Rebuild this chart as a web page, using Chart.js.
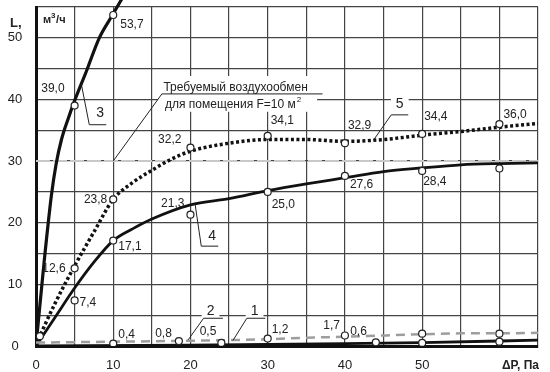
<!DOCTYPE html>
<html>
<head>
<meta charset="utf-8">
<script src="https://cdn.jsdelivr.net/npm/chart.js@4/dist/chart.umd.min.js"></script>
<style>
    html, body { margin: 0; padding: 0; background: #fff; }
</style>
</head>
<body>
<canvas id="grafico" width="550" height="372"></canvas>
<script>
// кривые: ΔP, Па -> L, м3/ч
const dP1 = [0, 20, 40, 50, 65];
const L1 = [0, 0.15, 0.4, 0.55, 0.95];
const dP2 = [0, 10, 20, 30, 35, 40, 50, 55, 60, 65];
const L2 = [0.55, 0.7, 0.85, 1.1, 1.35, 1.5, 1.9, 2.05, 2.05, 2.15];
const dP3 = [0, 1, 2, 2.6, 3.3, 4.2, 5, 6.5, 8.2, 9.9, 11.2];
const L3 = [0, 13, 24.5, 29.5, 33.5, 37, 39.8, 44.5, 50, 53.7, 56.5];
const dP4 = [0, 2.5, 5, 7.5, 10, 12.5, 15, 20, 25, 30, 35, 40, 45, 50, 55, 60, 65];
const L4 = [0, 4.7, 9.4, 13.6, 17.1, 19.0, 20.6, 22.9, 23.9, 25.2, 26.3, 27.3, 28.3, 28.9, 29.4, 29.6, 29.7];
const dP5 = [0, 2.5, 5, 7.5, 10, 12.5, 15, 17.5, 20, 25, 30, 35, 40, 45, 50, 55, 60, 65];
const L5 = [0.3, 7, 13, 18.5, 23.8, 26.5, 28.5, 30.3, 31.6, 32.9, 33.5, 33.5, 33.2, 33.5, 34.2, 34.8, 35.5, 36.1];

// замеренные точки
const ptDP1 = [24, 44, 50, 60];
const ptL1 = [0.5, 0.6, 0.5, 0.7];
const ptDP2 = [10, 18.5, 30, 40, 50, 60];
const ptL2 = [0.4, 0.8, 1.2, 1.7, 2.0, 2.0];
const ptDP3 = [5, 10];
const ptL3 = [39.0, 53.7];
const ptDP4 = [5, 10, 20, 30, 40, 50, 60];
const ptL4 = [7.4, 17.1, 21.3, 25.0, 27.6, 28.4, 28.8];
const ptDP5 = [0.5, 5, 10, 20, 30, 40, 50, 60];
const ptL5 = [1.6, 12.6, 23.8, 32.2, 34.1, 32.9, 34.4, 36.0];

// требуемый воздухообмен для помещения F=10 м2
const dPReq = [0, 65];
const LReq = [30, 30];

const xTicks = [0, 10, 20, 30, 40, 50];
const yTicks = [0, 10, 20, 30, 40, 50];

const FONT = '"Liberation Sans", Arial, sans-serif';
const fmt = v => v.toFixed(1).replace('.', ',');

// где ставить подпись у точки: [dx, dy], dx < 0 — текст слева от точки
const posValores = [
    [[-5, -11], [-9, -11], null, null],
    [[5, -9], [-7, -7], [4, -9], [-5, -10], null, null],
    [[-10, -17], [7, 10]],
    [[5, 2], [5, 6], [-6, -11], [4, 13], [5, 9], [1, 11], null],
    [null, [-9, 0], [-6, 0], [-9, -8], [3, -15], [3, -18], [2, -17], [4, -9]]
];

function curva(xs, ys, estilo) {
    return Object.assign({
        data: xs.map((x, i) => ({ x: x, y: ys[i] })),
        showLine: true,
        pointRadius: 0,
        pointHoverRadius: 0,
        cubicInterpolationMode: 'monotone',
        borderColor: '#111',
        fill: false
    }, estilo);
}

function puntos(xs, ys) {
    return {
        data: xs.map((x, i) => ({ x: x, y: ys[i] })),
        showLine: false,
        pointRadius: 3.5,
        pointHoverRadius: 3.5,
        pointBackgroundColor: '#fff',
        pointBorderColor: '#222',
        pointBorderWidth: 1.2,
        esPuntos: true
    };
}

const valores = {
    id: 'valores',
    afterDatasetsDraw(chart) {
        const ctx = chart.ctx;
        ctx.save();
        ctx.font = '12px ' + FONT;
        ctx.fillStyle = '#222';
        ctx.textBaseline = 'middle';
        chart.data.datasets.forEach((ds, i) => {
            if (!ds.esPuntos) return;
            const pos = posValores[i];
            chart.getDatasetMeta(i).data.forEach((el, j) => {
                if (!pos[j]) return;
                const [dx, dy] = pos[j];
                ctx.textAlign = dx < 0 ? 'right' : 'left';
                ctx.fillText(fmt(ds.data[j].y), el.x + dx, el.y + dy);
            });
        });
        ctx.restore();
    }
};

const anotaciones = {
    id: 'anotaciones',
    afterDatasetsDraw(chart) {
        const ctx = chart.ctx;
        const X = v => chart.scales.x.getPixelForValue(v);
        const Y = v => chart.scales.y.getPixelForValue(v);
        const linea = (pts) => {
            ctx.beginPath();
            pts.forEach((p, k) => k ? ctx.lineTo(X(p[0]), Y(p[1])) : ctx.moveTo(X(p[0]), Y(p[1])));
            ctx.stroke();
        };
        ctx.save();
        ctx.strokeStyle = '#222';
        ctx.lineWidth = 1;

        // надпись про требуемый воздухообмен
        ctx.fillStyle = '#fff';
        ctx.fillRect(X(15.8), Y(43.8), X(36.4) - X(15.8), Y(38.0) - Y(43.8));
        ctx.fillStyle = '#222';
        ctx.font = '12px ' + FONT;
        ctx.textBaseline = 'middle';
        ctx.textAlign = 'left';
        ctx.fillText('Требуемый воздухообмен', X(16.5), Y(41.9));
        ctx.fillText('для помещения F=10 м', X(16.7), Y(39.1));
        const w2 = ctx.measureText('для помещения F=10 м').width;
        ctx.font = '8px ' + FONT;
        ctx.fillText('2', X(16.7) + w2 + 1, Y(39.1) - 5);
        linea([[10, 30], [16.3, 40.9], [37.1, 40.9]]);

        // номера кривых
        ctx.font = '14px ' + FONT;
        ctx.textAlign = 'center';
        const numeros = [
            ['1', 28.3, 5.6, [[25.5, 0.9], [27.3, 4.5], [29.7, 4.5]]],
            ['2', 22.6, 5.6, [[19.7, 1.0], [21.7, 4.5], [24.2, 4.5]]],
            ['3', 8.3, 37.7, [[5.9, 42.3], [6.9, 35.9], [9.1, 35.9]]],
            ['4', 22.8, 17.8, [[20.6, 23.0], [21.4, 16.2], [23.6, 16.2]]],
            ['5', 47.1, 39.2, [[43.7, 33.4], [46.0, 37.5], [48.2, 37.5]]]
        ];
        numeros.forEach(([t, x, y, pts]) => {
            const w = ctx.measureText(t).width;
            ctx.fillStyle = '#fff';
            ctx.fillRect(X(x) - w / 2 - 5, Y(y) - 8, w + 10, 15);
            ctx.fillStyle = '#222';
            ctx.fillText(t, X(x), Y(y));
            linea(pts);
        });

        // подписи оси L
        ctx.font = '13px ' + FONT;
        yTicks.forEach(v => ctx.fillText(String(v), 15, Y(v)));

        // подписи осей
        ctx.font = 'bold 13px ' + FONT;
        ctx.textAlign = 'left';
        ctx.fillText('L,', 10, Y(52.4));
        ctx.font = 'bold 11px ' + FONT;
        const x0 = X(0.9), y0 = Y(52.9);
        ctx.fillText('м', x0, y0);
        const wm = ctx.measureText('м').width;
        ctx.font = 'bold 8px ' + FONT;
        ctx.fillText('3', x0 + wm, y0 - 4);
        ctx.font = 'bold 11px ' + FONT;
        ctx.fillText('/ч', x0 + wm + 5, y0);
        ctx.font = 'bold 12px ' + FONT;
        ctx.textAlign = 'right';
        ctx.fillText('ΔP, Па', chart.chartArea.right + 1, 366);
        ctx.restore();
    }
};

new Chart(document.getElementById('grafico'), {
    type: 'scatter',
    data: {
        datasets: [
            puntos(ptDP1, ptL1),
            puntos(ptDP2, ptL2),
            puntos(ptDP3, ptL3),
            puntos(ptDP4, ptL4),
            puntos(ptDP5, ptL5),
            curva(dP1, L1, { borderWidth: 2.8 }),
            curva(dP2, L2, { borderWidth: 2.5, borderColor: '#9d9d9d', borderDash: [9, 6] }),
            curva(dP3, L3, { borderWidth: 3.2, clip: { left: 0, top: 8, right: 0, bottom: 0 } }),
            curva(dP4, L4, { borderWidth: 2.8 }),
            curva(dP5, L5, { borderWidth: 3.5, borderDash: [3, 2.5] }),
            curva(dPReq, LReq, { borderWidth: 2, borderColor: '#c8c8c8', borderDash: [14, 3] })
        ]
    },
    options: {
        responsive: false,
        animation: false,
        events: [],
        layout: { padding: { top: 7, right: 7, left: 0, bottom: 0 } },
        plugins: {
            legend: { display: false },
            tooltip: { enabled: false }
        },
        scales: {
            x: {
                type: 'linear',
                min: 0,
                max: 65,
                afterFit: (s) => { s.height = 26; },
                border: { color: '#111', width: 3 },
                grid: { color: '#444', lineWidth: 1.2, drawTicks: false },
                ticks: {
                    stepSize: 5,
                    autoSkip: false,
                    maxRotation: 0,
                    padding: 12,
                    color: '#222',
                    font: { family: FONT, size: 13 },
                    callback: (v) => xTicks.includes(v) ? String(v) : ''
                }
            },
            y: {
                type: 'linear',
                min: 0,
                max: 55,
                afterFit: (s) => { s.width = 36; },
                border: { color: '#111', width: 3 },
                grid: { color: '#444', lineWidth: 1.2, drawTicks: false },
                ticks: {
                    stepSize: 5,
                    display: false
                }
            }
        }
    },
    plugins: [valores, anotaciones]
});
</script>
</body>
</html>
